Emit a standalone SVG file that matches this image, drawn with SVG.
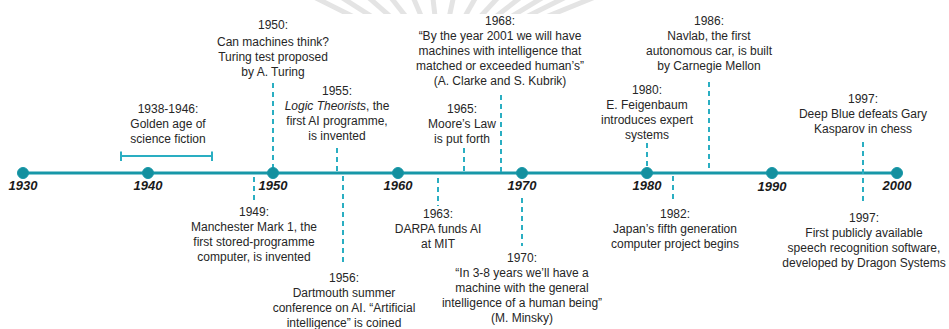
<svg xmlns="http://www.w3.org/2000/svg" width="949" height="329" viewBox="0 0 949 329">
  <style>
    .txt { font-family: "Liberation Sans", Arial, sans-serif; font-size: 12px; fill: #262626; text-anchor: middle; }
    .yr { font-family: "Liberation Sans", Arial, sans-serif; font-size: 13px; font-weight: bold; font-style: italic; fill: #1a1a1a; text-anchor: middle; }
    .axis { stroke: #1797a8; stroke-width: 3; fill: none; }
    .dot { fill: #14909f; stroke: #1797a8; stroke-width: 1; }
    .lead { stroke: #2aaec2; stroke-width: 2; stroke-dasharray: 5 4; fill: none; }
    .span { stroke: #2aaec2; stroke-width: 2; fill: none; }
    .burst { stroke: #e4e4e4; stroke-width: 5; fill: none; }
  </style>
  <defs>
    <clipPath id="topband"><rect x="0" y="0" width="949" height="14"/></clipPath>
  </defs>

  <!-- faint sunburst strip along the top edge -->
  <g id="backdrop" clip-path="url(#topband)">
    <g class="burst">
      <line x1="440" y1="60" x2="300" y2="-10"/>
      <line x1="440" y1="60" x2="330" y2="-10"/>
      <line x1="440" y1="60" x2="360" y2="-10"/>
      <line x1="440" y1="60" x2="385" y2="-10"/>
      <line x1="440" y1="60" x2="410" y2="-10"/>
      <line x1="440" y1="60" x2="432" y2="-10"/>
      <line x1="440" y1="60" x2="455" y2="-10"/>
      <line x1="440" y1="60" x2="480" y2="-10"/>
      <line x1="440" y1="60" x2="505" y2="-10"/>
      <line x1="440" y1="60" x2="530" y2="-10"/>
      <line x1="440" y1="60" x2="555" y2="-10"/>
      <line x1="440" y1="60" x2="580" y2="-10"/>
      <line x1="440" y1="60" x2="600" y2="-5"/>
    </g>
  </g>

  <!-- connectors: axis, leader lines and the 1938-1946 span -->
  <g id="connectors">
    <line class="axis" x1="23" y1="173" x2="897" y2="173"/>
    <path class="span" d="M121 156 H212 M121 151.5 V161 M212 151.5 V161"/>
    <line class="lead" x1="273" y1="83" x2="273" y2="170"/>
    <line class="lead" x1="254" y1="177" x2="254" y2="204"/>
    <line class="lead" x1="337" y1="148" x2="337" y2="172"/>
    <line class="lead" x1="343" y1="176" x2="343" y2="266"/>
    <line class="lead" x1="438" y1="178" x2="438" y2="206"/>
    <line class="lead" x1="464" y1="148" x2="464" y2="172"/>
    <line class="lead" x1="501" y1="95" x2="501" y2="172"/>
    <line class="lead" x1="522" y1="198" x2="522" y2="246"/>
    <line class="lead" x1="647" y1="143" x2="647" y2="170"/>
    <line class="lead" x1="673" y1="176" x2="673" y2="203"/>
    <line class="lead" x1="709" y1="82" x2="709" y2="172"/>
    <line class="lead" x1="863" y1="142" x2="863" y2="201"/>
  </g>

  <!-- decade markers -->
  <g id="y1930"><circle class="dot" cx="23" cy="173" r="5.5"/><text class="yr" x="23" y="190">1930</text></g>
  <g id="y1940"><circle class="dot" cx="148" cy="173" r="5.5"/><text class="yr" x="148" y="190">1940</text></g>
  <g id="y1950"><circle class="dot" cx="273" cy="173" r="5.5"/><text class="yr" x="273" y="190">1950</text></g>
  <g id="y1960"><circle class="dot" cx="398" cy="173" r="5.5"/><text class="yr" x="398" y="190">1960</text></g>
  <g id="y1970"><circle class="dot" cx="522" cy="173" r="5.5"/><text class="yr" x="522" y="190">1970</text></g>
  <g id="y1980"><circle class="dot" cx="647" cy="173" r="5.5"/><text class="yr" x="647" y="190">1980</text></g>
  <g id="y1990"><circle class="dot" cx="772" cy="173" r="5.5"/><text class="yr" x="772" y="191">1990</text></g>
  <g id="y2000"><circle class="dot" cx="897" cy="173" r="5.5"/><text class="yr" x="897" y="190">2000</text></g>

  <!-- events above the axis -->
  <g id="e1938">
    <text class="txt" x="168" y="113">1938-1946:</text>
    <text class="txt" x="168" y="128">Golden age of</text>
    <text class="txt" x="168" y="143">science fiction</text>
  </g>
  <g id="e1950">
    <text class="txt" x="273" y="29">1950:</text>
    <text class="txt" x="273" y="46">Can machines think?</text>
    <text class="txt" x="273" y="61">Turing test proposed</text>
    <text class="txt" x="273" y="76">by A. Turing</text>
  </g>
  <g id="e1955">
    <text class="txt" x="337" y="95">1955:</text>
    <text class="txt" x="337" y="110"><tspan font-style="italic">Logic Theorists</tspan>, the</text>
    <text class="txt" x="337" y="125">first AI programme,</text>
    <text class="txt" x="337" y="140">is invented</text>
  </g>
  <g id="e1965">
    <text class="txt" x="462" y="113">1965:</text>
    <text class="txt" x="462" y="128">Moore’s Law</text>
    <text class="txt" x="462" y="143">is put  forth</text>
  </g>
  <g id="e1968">
    <text class="txt" x="500" y="25">1968:</text>
    <text class="txt" x="500" y="40">“By the year 2001 we will have</text>
    <text class="txt" x="500" y="55">machines with intelligence that</text>
    <text class="txt" x="500" y="70">matched or exceeded human’s”</text>
    <text class="txt" x="500" y="85">(A. Clarke and S. Kubrik)</text>
  </g>
  <g id="e1980">
    <text class="txt" x="647" y="94">1980:</text>
    <text class="txt" x="647" y="109">E. Feigenbaum</text>
    <text class="txt" x="647" y="124">introduces expert</text>
    <text class="txt" x="647" y="139">systems</text>
  </g>
  <g id="e1986">
    <text class="txt" x="709" y="25">1986:</text>
    <text class="txt" x="709" y="40">Navlab, the first</text>
    <text class="txt" x="709" y="55">autonomous car, is built</text>
    <text class="txt" x="709" y="70">by Carnegie Mellon</text>
  </g>
  <g id="e1997a">
    <text class="txt" x="863" y="103">1997:</text>
    <text class="txt" x="863" y="118">Deep Blue defeats Gary</text>
    <text class="txt" x="863" y="133">Kasparov in chess</text>
  </g>

  <!-- events below the axis -->
  <g id="e1949">
    <text class="txt" x="254" y="216">1949:</text>
    <text class="txt" x="254" y="231">Manchester Mark 1, the</text>
    <text class="txt" x="254" y="246">first stored-programme</text>
    <text class="txt" x="254" y="261">computer, is invented</text>
  </g>
  <g id="e1956">
    <text class="txt" x="344" y="282">1956:</text>
    <text class="txt" x="344" y="297">Dartmouth summer</text>
    <text class="txt" x="344" y="312">conference on AI. “Artificial</text>
    <text class="txt" x="344" y="327">intelligence” is coined</text>
  </g>
  <g id="e1963">
    <text class="txt" x="438" y="218">1963:</text>
    <text class="txt" x="438" y="233">DARPA funds AI</text>
    <text class="txt" x="438" y="248">at MIT</text>
  </g>
  <g id="e1970">
    <text class="txt" x="522" y="262">1970:</text>
    <text class="txt" x="522" y="277">“In 3-8 years we’ll have a</text>
    <text class="txt" x="522" y="292">machine with the general</text>
    <text class="txt" x="522" y="307">intelligence of a human being”</text>
    <text class="txt" x="522" y="322">(M. Minsky)</text>
  </g>
  <g id="e1982">
    <text class="txt" x="675" y="218">1982:</text>
    <text class="txt" x="675" y="233">Japan’s fifth generation</text>
    <text class="txt" x="675" y="248">computer project begins</text>
  </g>
  <g id="e1997b">
    <text class="txt" x="864" y="222">1997:</text>
    <text class="txt" x="864" y="237">First publicly available</text>
    <text class="txt" x="864" y="252">speech recognition software,</text>
    <text class="txt" x="864" y="267">developed by Dragon Systems</text>
  </g>
</svg>
